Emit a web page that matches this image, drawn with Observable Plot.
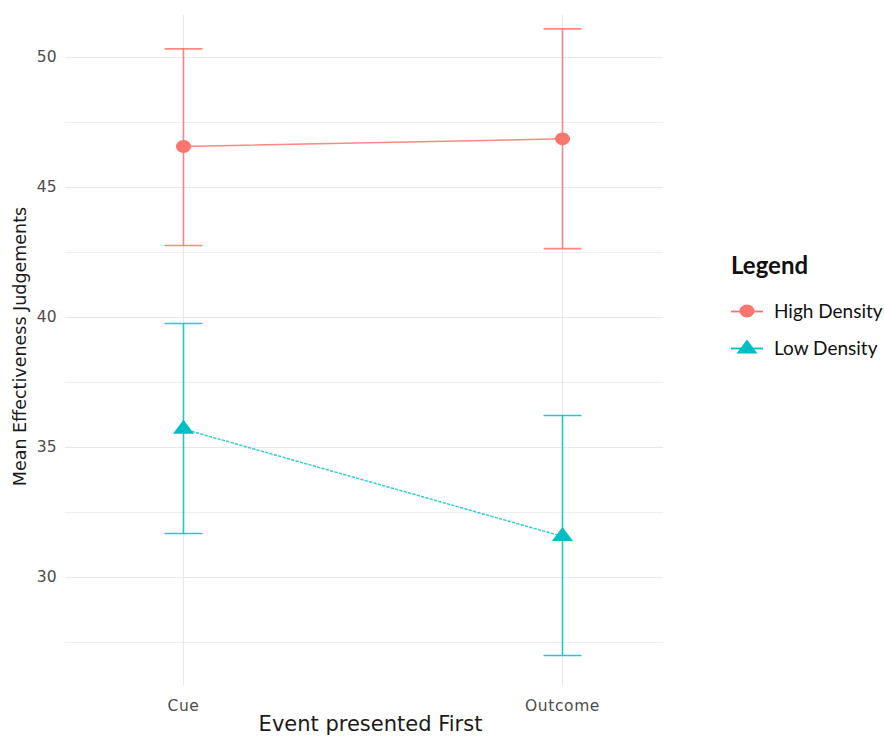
<!DOCTYPE html>
<html>
<head>
<meta charset="utf-8">
<script src="https://cdn.jsdelivr.net/npm/d3@7"></script>
<script src="https://cdn.jsdelivr.net/npm/@observablehq/plot@0.6"></script>
<style>
  html, body { margin: 0; padding: 0; background: #fff; }
  #wrap { position: relative; width: 884px; height: 736px; overflow: hidden; }
  #chart { position: absolute; left: 0; top: 0; }
  #legend { position: absolute; left: 731px; top: 250px; font-family: Lato, "Open Sans", sans-serif; color: #111; }
  #legend .title { font-size: 24px; font-weight: bold; margin-bottom: 13px; }
  #legend .item { display: flex; align-items: center; height: 37px; font-size: 19px; }
  #legend svg { margin-right: 11px; }
  #chart .tick-lbl text { letter-spacing: 0.6px; }
</style>
</head>
<body>
<div id="wrap">
  <div id="chart"></div>
  <div id="legend"></div>
</div>
<script>
// ---- data ----
const conditions = ["Cue", "Outcome"];
const seriesNames = ["High Density", "Low Density"];
const seriesColors = ["#F8766D", "#00BFC4"];
const highMean = [46.58, 46.87];
const highLow = [42.77, 42.65];
const highHigh = [50.33, 51.10];
const lowMean = [35.71, 31.58];
const lowLow = [31.69, 27.00];
const lowHigh = [39.77, 36.23];
const yTicks = [30, 35, 40, 45, 50];
const yMinorTicks = [27.5, 32.5, 37.5, 42.5, 47.5];
const xTitle = "Event presented First";
const yTitle = "Mean Effectiveness Judgements";

const high = conditions.map((c, i) => ({cond: c, mean: highMean[i], lo: highLow[i], hi: highHigh[i]}));
const low = conditions.map((c, i) => ({cond: c, mean: lowMean[i], lo: lowLow[i], hi: lowHigh[i]}));

// ---- symbols ----
const capSymbol = {draw(ctx) { ctx.moveTo(-19, 0); ctx.lineTo(19, 0); }};
const ellipseSymbol = {draw(ctx) {
  const rx = 7.5, ry = 6.4, k = 0.5523;
  ctx.moveTo(rx, 0);
  ctx.bezierCurveTo(rx, ry * k, rx * k, ry, 0, ry);
  ctx.bezierCurveTo(-rx * k, ry, -rx, ry * k, -rx, 0);
  ctx.bezierCurveTo(-rx, -ry * k, -rx * k, -ry, 0, -ry);
  ctx.bezierCurveTo(rx * k, -ry, rx, -ry * k, rx, 0);
  ctx.closePath();
}};
const triSymbol = {draw(ctx) {
  const w = 21, h = 14;
  ctx.moveTo(0, -2 * h / 3);
  ctx.lineTo(w / 2, h / 3);
  ctx.lineTo(-w / 2, h / 3);
  ctx.closePath();
}};

const tickColor = "#4d4d4d";
const titleColor = "#1a1a1a";
const chart = Plot.plot({
  width: 700,
  height: 736,
  marginLeft: 65,
  marginRight: 37,
  marginTop: 15,
  marginBottom: 51,
  style: {fontFamily: "'DejaVu Sans', sans-serif", background: "#fff"},
  x: {type: "point", domain: conditions, range: [183, 562], padding: 0},
  y: {domain: [25.846, 51.615]},
  marks: [
    Plot.ruleY(yMinorTicks, {stroke: "#ebebeb", strokeWidth: 0.8}),
    Plot.ruleY(yTicks, {stroke: "#e8e8e8", strokeWidth: 1.1}),
    Plot.ruleX(conditions, {x: d => d, stroke: "#e8e8e8", strokeWidth: 1.1}),
    Plot.axisY({ticks: yTicks, tickSize: 0, tickPadding: 9, fontSize: 15.5, color: tickColor, label: null}),
    Plot.axisX({tickSize: 0, tickPadding: 14, fontSize: 15.5, color: tickColor, label: null, className: "tick-lbl"}),
    Plot.text([yTitle], {text: d => d, frameAnchor: "left", rotate: -90, dx: -45, dy: -4, textAnchor: "middle",
      lineAnchor: "middle", fontSize: 17.5, fill: titleColor}),
    Plot.text([xTitle], {text: d => d, frameAnchor: "bottom", dy: 39, dx: 6, textAnchor: "middle", lineAnchor: "middle",
      fontSize: 21, fill: titleColor}),
    // error bars
    Plot.ruleX(high, {x: "cond", y1: "lo", y2: "hi", stroke: seriesColors[0], strokeWidth: 1.6, strokeOpacity: 0.85}),
    Plot.dot(high, {x: "cond", y: "lo", symbol: capSymbol, stroke: seriesColors[0], strokeWidth: 1.6, strokeOpacity: 0.85, fill: "none"}),
    Plot.dot(high, {x: "cond", y: "hi", symbol: capSymbol, stroke: seriesColors[0], strokeWidth: 1.6, strokeOpacity: 0.85, fill: "none"}),
    Plot.ruleX(low, {x: "cond", y1: "lo", y2: "hi", stroke: seriesColors[1], strokeWidth: 1.6, strokeOpacity: 0.85}),
    Plot.dot(low, {x: "cond", y: "lo", symbol: capSymbol, stroke: seriesColors[1], strokeWidth: 1.6, strokeOpacity: 0.85, fill: "none"}),
    Plot.dot(low, {x: "cond", y: "hi", symbol: capSymbol, stroke: seriesColors[1], strokeWidth: 1.6, strokeOpacity: 0.85, fill: "none"}),
    // lines
    Plot.line(high, {x: "cond", y: "mean", stroke: seriesColors[0], strokeWidth: 1.5, strokeOpacity: 0.85}),
    Plot.line(low, {x: "cond", y: "mean", stroke: seriesColors[1], strokeWidth: 1.5, strokeOpacity: 0.8, strokeDasharray: "2,2.5"}),
    // points
    Plot.dot(high, {x: "cond", y: "mean", symbol: ellipseSymbol, fill: seriesColors[0], stroke: "none"}),
    Plot.dot(low, {x: "cond", y: "mean", symbol: triSymbol, fill: seriesColors[1], stroke: "none"})
  ]
});
document.getElementById("chart").appendChild(chart);

// ---- legend ----
const legend = document.getElementById("legend");
legend.innerHTML = `<div class="title">Legend</div>` + seriesNames.map((name, i) => {
  const color = seriesColors[i];
  const shape = i === 0
    ? `<ellipse cx="16" cy="10" rx="7.5" ry="6.5" fill="${color}"/>`
    : `<path d="M16,1.5 L26.5,15.5 L5.5,15.5 Z" fill="${color}"/>`;
  return `<div class="item"><svg width="32" height="20"><line x1="0" x2="32" y1="10.5" y2="10.5" stroke="${color}" stroke-width="1.8"/>${shape}</svg>${name}</div>`;
}).join("");
</script>
</body>
</html>
